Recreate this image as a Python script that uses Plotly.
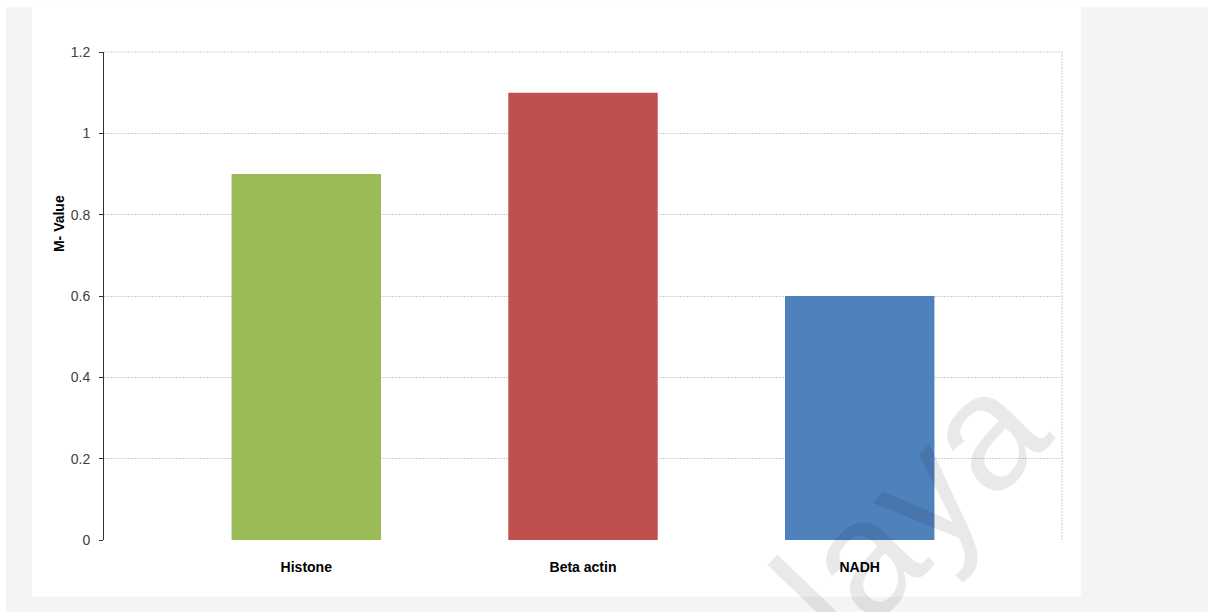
import plotly.graph_objects as go

# Reference gene stability (M-values)
genes = ["Histone", "Beta actin", "NADH"]
m_values = [0.9, 1.1, 0.6]
bar_colors = ["#9BBB59", "#C0504D", "#4F81BD"]
y_ticks = [0, 0.2, 0.4, 0.6, 0.8, 1.0, 1.2]
y_tick_text = ["0", "0.2", "0.4", "0.6", "0.8", "1", "1.2"]

W, H = 1213, 612
L, R, T, B = 104, 1062, 51.7, 540.3  # plot-area edges in pixels


def px(x):
    return (x - L) / (R - L)


def py(y):
    return (B - y) / (B - T)


fig = go.Figure(
    go.Bar(
        x=genes,
        y=m_values,
        marker=dict(color=bar_colors, line=dict(width=0)),
        width=0.54,
        hoverinfo="x+y",
    )
)

font_family = "Liberation Sans, Arial, sans-serif"
grid_line = dict(color="#cfcfcf", width=1, dash="2px,1px")

shapes = [
    # grey page frame and white chart panel
    dict(type="rect", xref="paper", yref="paper", x0=px(6), x1=px(1208), y0=py(7), y1=py(612),
         fillcolor="#f4f4f4", line=dict(width=0), layer="below"),
    dict(type="rect", xref="paper", yref="paper", x0=px(32), x1=px(1081), y0=py(7), y1=py(597),
         fillcolor="#ffffff", line=dict(width=0), layer="below"),
    # dotted top and right borders of the plot area
    dict(type="line", xref="paper", yref="paper", x0=0, x1=1, y0=1, y1=1,
         line=grid_line, layer="below"),
    dict(type="line", xref="paper", yref="paper", x0=1, x1=1, y0=0, y1=1,
         line=grid_line, layer="below"),
]

annotations = [
    dict(text="<b>M- Value</b>", xref="paper", yref="paper", x=px(59), y=py(224),
         textangle=-90, showarrow=False, font=dict(family=font_family, size=14, color="#000000"),
         xanchor="center", yanchor="middle"),
    # watermark
    dict(text="Malaya", xref="paper", yref="paper", x=px(830), y=py(590),
         textangle=-46, showarrow=False,
         font=dict(family=font_family, size=165, color="rgba(0,0,0,0.085)"),
         xanchor="center", yanchor="middle"),
]

fig.update_layout(
    width=W,
    height=H,
    margin=dict(l=L, r=W - R, t=T, b=H - B, pad=0),
    paper_bgcolor="#ffffff",
    plot_bgcolor="rgba(0,0,0,0)",
    showlegend=False,
    shapes=shapes,
    annotations=annotations,
    font=dict(family=font_family, size=14, color="#404040"),
    xaxis=dict(
        range=[-0.731, 2.731],
        showline=False,
        showgrid=False,
        zeroline=False,
        ticks="",
        tickfont=dict(family=font_family, size=14, color="#000000", weight="bold"),
        ticklabelstandoff=17,
        fixedrange=True,
    ),
    yaxis=dict(
        range=[0, 1.2],
        tickvals=y_ticks,
        ticktext=y_tick_text,
        showline=True,
        linecolor="#333333",
        linewidth=1,
        ticks="outside",
        ticklen=4,
        tickcolor="#333333",
        showgrid=True,
        gridcolor="#cfcfcf",
        griddash="2px,1px",
        gridwidth=1,
        zeroline=False,
        tickfont=dict(family=font_family, size=14, color="#404040"),
        ticklabelstandoff=6,
        fixedrange=True,
    ),
)

fig.write_html("out.html")
